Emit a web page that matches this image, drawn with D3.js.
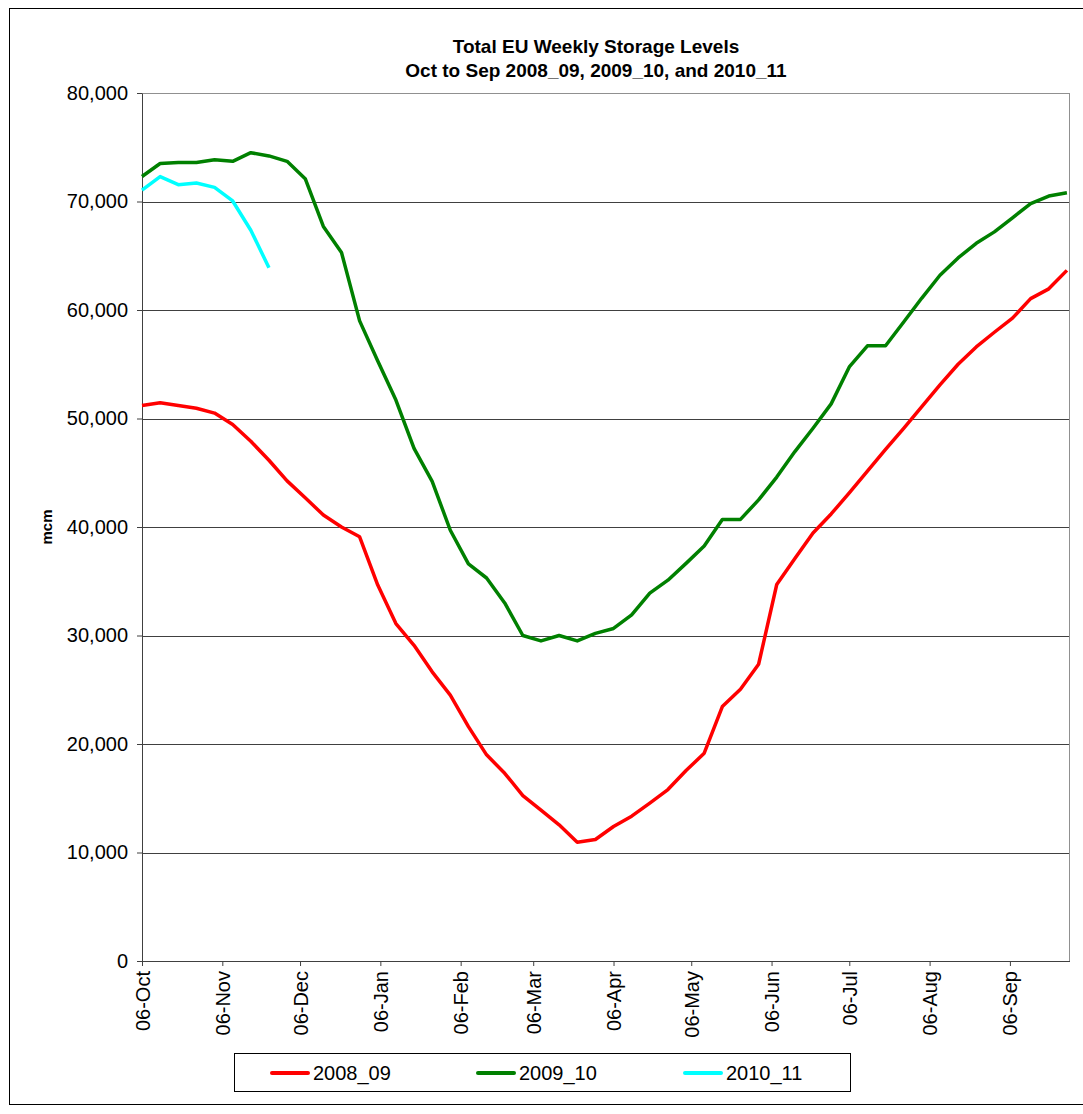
<!DOCTYPE html>
<html>
<head>
<meta charset="utf-8">
<script src="https://cdn.jsdelivr.net/npm/d3@7"></script>
<style>
  body { margin: 0; background: #fff; }
  svg text { font-family: "Liberation Sans", Arial, sans-serif; fill: #000; }
  .axis path, .axis line { stroke: #404040; }
</style>
</head>
<body>
<svg id="chart" width="1083" height="1114"></svg>
<script>
// weekly storage levels (mcm), one value per week starting 06-Oct
const series2008_09 = [
  51200, 51450, 51200, 50950, 50500, 49450, 47900, 46150, 44250, 42700,
  41100, 40000, 39100, 34650, 31100, 29100, 26650, 24500, 21600, 19000,
  17300, 15250, 13900, 12550, 10950, 11200, 12400, 13350, 14550, 15800,
  17550, 19150, 23450, 25050, 27350, 34700, 37100, 39450, 41200, 43150,
  45150, 47150, 49100, 51100, 53100, 55000, 56600, 57950, 59250, 61050,
  61950, 63650
];
const series2009_10 = [
  72300, 73500, 73600, 73600, 73850, 73700, 74500, 74200, 73700, 72100,
  67700, 65300, 59000, 55300, 51700, 47250, 44200, 39700, 36600, 35300,
  33000, 30000, 29500, 30000, 29500, 30200, 30650, 31900, 33900, 35100,
  36650, 38250, 40700, 40700, 42500, 44600, 46950, 49100, 51350, 54750,
  56700, 56700, 58900, 61100, 63200, 64800, 66150, 67200, 68500, 69800,
  70500, 70800
];
const series2010_11 = [71050, 72300, 71550, 71700, 71300, 70050, 67350, 63900];

const seriesNames = ["2008_09", "2009_10", "2010_11"];
const seriesColors = ["#ff0000", "#008000", "#00ffff"];
const yTicks = [0, 10000, 20000, 30000, 40000, 50000, 60000, 70000, 80000];
const xTickLabels = ["06-Oct", "06-Nov", "06-Dec", "06-Jan", "06-Feb", "06-Mar",
                     "06-Apr", "06-May", "06-Jun", "06-Jul", "06-Aug", "06-Sep"];

const parseDay = d3.timeParse("%d-%b-%Y");
const start = new Date(2008, 9, 6);
// week start dates (category axis)
const weeks = d3.range(series2008_09.length).map(i => d3.timeDay.offset(start, 7 * i));
const tickDates = xTickLabels.map((l, i) => parseDay(l + (i < 3 ? "-2008" : "-2009")));

const svg = d3.select("#chart");
const plot = { left: 142, right: 1069.5, top: 93, bottom: 961 };

const x = d3.scaleTime()
  .domain([start, d3.timeDay.offset(start, 358)])
  .range([plot.left, plot.right]);
const y = d3.scaleLinear()
  .domain([0, 80000])
  .range([plot.bottom, plot.top]);

// chart frame
svg.append("rect")
  .attr("x", 9.5).attr("y", 8.5)
  .attr("width", 1090).attr("height", 1096)
  .attr("fill", "none").attr("stroke", "#000");

// gridlines
svg.append("g")
  .selectAll("line")
  .data(yTicks.slice(1))
  .join("line")
  .attr("x1", plot.left).attr("x2", plot.right)
  .attr("y1", d => Math.round(y(d)) + 0.5).attr("y2", d => Math.round(y(d)) + 0.5)
  .attr("stroke", d => d === 80000 ? "#909090" : "#404040")
  .attr("stroke-width", 1);

// right border of plot area
svg.append("line")
  .attr("x1", plot.right).attr("x2", plot.right)
  .attr("y1", plot.top).attr("y2", plot.bottom)
  .attr("stroke", "#909090");

// axes
svg.append("g")
  .attr("class", "axis")
  .attr("transform", `translate(${plot.left},0)`)
  .call(d3.axisLeft(y).tickValues(yTicks).tickFormat(d3.format(",")).tickSize(5).tickSizeOuter(0))
  .call(g => g.selectAll("text")
    .attr("x", -14)
    .style("font-size", "20px"));

svg.append("g")
  .attr("class", "axis")
  .attr("transform", `translate(0,${plot.bottom})`)
  .call(d3.axisBottom(x).tickValues(tickDates).tickFormat(d3.timeFormat("%d-%b")).tickSize(5).tickSizeOuter(0))
  .call(g => g.selectAll("text")
    .attr("transform", "rotate(-90)")
    .attr("x", -10)
    .attr("y", 0)
    .attr("dy", "0.35em")
    .attr("text-anchor", "end")
    .style("font-size", "20px"));

svg.selectAll(".axis .domain").attr("stroke", "#404040");

// y axis title
svg.append("text")
  .attr("transform", "translate(52,527) rotate(-90)")
  .attr("text-anchor", "middle")
  .style("font-size", "15px")
  .style("font-weight", "bold")
  .text("mcm");

// chart title
const title = svg.append("text")
  .attr("x", 596)
  .attr("text-anchor", "middle")
  .style("font-size", "19px")
  .style("font-weight", "bold");
title.append("tspan").attr("x", 596).attr("y", 53).text("Total EU Weekly Storage Levels");
title.append("tspan").attr("x", 596).attr("y", 77).text("Oct to Sep 2008_09, 2009_10, and 2010_11");

// lines
const line = d3.line()
  .x((d, i) => x(weeks[i]))
  .y(d => y(d));

const allSeries = [series2008_09, series2009_10, series2010_11];
svg.append("g")
  .selectAll("path")
  .data(allSeries)
  .join("path")
  .attr("d", d => line(d))
  .attr("fill", "none")
  .attr("stroke", (d, i) => seriesColors[i])
  .attr("stroke-width", 3.5)
  .attr("stroke-linejoin", "round");

// legend
const legend = svg.append("g");
legend.append("rect")
  .attr("x", 234.5).attr("y", 1053.5)
  .attr("width", 616).attr("height", 38)
  .attr("fill", "#fff").attr("stroke", "#000");

const legendX = [272, 478, 685];
const item = legend.selectAll("g")
  .data(seriesNames)
  .join("g")
  .attr("transform", (d, i) => `translate(${legendX[i]},1073)`);
item.append("line")
  .attr("x1", 0).attr("x2", 36)
  .attr("stroke", (d, i) => seriesColors[i])
  .attr("stroke-width", 4)
  .attr("stroke-linecap", "round");
item.append("text")
  .attr("x", 41)
  .attr("dy", "0.35em")
  .style("font-size", "20px")
  .text(d => d);
</script>
</body>
</html>
